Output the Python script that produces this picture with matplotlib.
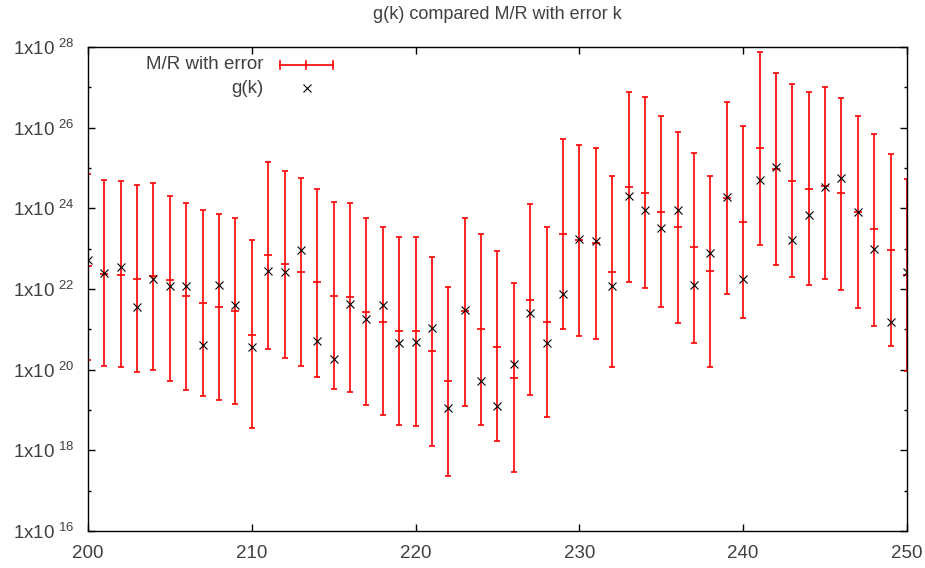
import numpy as np
import matplotlib.pyplot as plt
from matplotlib.lines import Line2D
from matplotlib.ticker import FixedLocator, FuncFormatter

plt.rcParams['font.family'] = ['Liberation Sans', 'DejaVu Sans']

# k values and log10 of the M/R centre, lower/upper error limits and g(k)
k = np.arange(200, 251)

mr_log = [22.56, 22.37, 22.35, 22.26, 22.31, 22.23, 21.82, 21.66, 21.56, 21.46,
          20.86, 22.85, 22.62, 22.41, 22.17, 21.82, 21.79, 21.42, 21.19, 20.95,
          20.95, 20.46, 19.71, 21.45, 21.01, 20.57, 19.80, 21.73, 21.17, 23.36,
          23.22, 23.15, 22.41, 24.52, 24.39, 23.92, 23.54, 23.03, 22.45, 24.25,
          23.65, 25.49, 24.97, 24.67, 24.48, 24.55, 24.37, 23.91, 23.48, 22.97,
          22.35]
low_log = [20.25, 20.09, 20.06, 19.95, 20.00, 19.71, 19.50, 19.35, 19.24, 19.15,
           18.55, 20.51, 20.30, 20.09, 19.83, 19.51, 19.45, 19.12, 18.88, 18.64,
           18.61, 18.11, 17.37, 19.09, 18.64, 18.23, 17.46, 19.38, 18.82, 21.02,
           20.84, 20.75, 20.06, 22.17, 22.03, 21.56, 21.16, 20.65, 20.06, 21.87,
           21.28, 23.09, 22.59, 22.29, 22.11, 22.24, 21.97, 21.52, 21.08, 20.58,
           19.96]
high_log = [24.85, 24.69, 24.67, 24.57, 24.63, 24.31, 24.12, 23.97, 23.87, 23.77,
            23.21, 25.16, 24.93, 24.76, 24.48, 24.16, 24.12, 23.77, 23.53, 23.30,
            23.30, 22.79, 22.05, 23.77, 23.36, 22.94, 22.14, 24.10, 23.54, 25.73,
            25.56, 25.49, 24.79, 26.89, 26.77, 26.29, 25.88, 25.38, 24.81, 26.63,
            26.03, 27.87, 27.36, 27.08, 26.89, 27.00, 26.74, 26.29, 25.85, 25.35,
            24.72]
g_log = [22.71, 22.40, 22.55, 21.55, 22.25, 22.07, 22.07, 20.60, 22.11, 21.60,
         20.57, 22.45, 22.42, 22.97, 20.71, 20.27, 21.64, 21.26, 21.60, 20.66,
         20.69, 21.04, 19.06, 21.47, 19.71, 19.09, 20.13, 21.41, 20.65, 21.88,
         23.24, 23.19, 22.07, 24.31, 23.95, 23.51, 23.95, 22.11, 22.89, 24.28,
         22.26, 24.70, 25.03, 23.21, 23.83, 24.54, 24.76, 23.91, 23.00, 21.17,
         22.42]

x_ticks = [200, 210, 220, 230, 240, 250]
y_major = [16, 18, 20, 22, 24, 26, 28]
y_minor = [17, 19, 21, 23, 25, 27]

mr = 10.0 ** np.array(mr_log)
low = 10.0 ** np.array(low_log)
high = 10.0 ** np.array(high_log)
g = 10.0 ** np.array(g_log)

text_col = '#404040'
fs = 13.5

fig = plt.figure(figsize=(9.25, 5.68), dpi=100)
ax = fig.add_axes([0.0951, 0.0651, 0.8854, 0.8522])

ax.errorbar(k, mr, yerr=[mr - low, high - mr], fmt='_', color='red',
            ms=6, mew=1.2, elinewidth=1.2, capsize=2.5, capthick=1.2, zorder=2)
ax.plot(k, g, 'x', color='black', ms=6, mew=0.8, zorder=3)

ax.set_yscale('log')
ax.set_xlim(200, 250)
ax.set_ylim(1e16, 1e28)

ax.xaxis.set_major_locator(FixedLocator(x_ticks))
ax.yaxis.set_major_locator(FixedLocator([10.0 ** e for e in y_major]))
ax.yaxis.set_minor_locator(FixedLocator([10.0 ** e for e in y_minor]))
ax.yaxis.set_minor_formatter(FuncFormatter(lambda v, p: ''))
ax.yaxis.set_major_formatter(FuncFormatter(
    lambda v, p: r'1x10$\mathregular{^{\ %d}}$' % round(np.log10(v))))

ax.tick_params(which='both', direction='in', top=True, right=True,
               labelsize=fs, labelcolor=text_col, width=1)
ax.tick_params(which='major', length=5)
ax.tick_params(axis='x', which='major', pad=10)
ax.tick_params(axis='y', which='major', pad=10)
ax.tick_params(which='minor', length=2.5)
for s in ax.spines.values():
    s.set_linewidth(1)

ax.set_title('g(k) compared M/R with error k', fontsize=13, color=text_col, pad=20)

# gnuplot style key, top left
tr = ax.transAxes
ax.text(0.214, 0.963, 'M/R with error', transform=tr, ha='right', va='center',
        fontsize=fs, color=text_col)
ax.add_line(Line2D([0.2345, 0.2992], [0.963, 0.963], transform=tr, color='red', lw=1.2))
for xx in (0.2345, 0.2662, 0.2992):
    ax.add_line(Line2D([xx, xx], [0.955, 0.971], transform=tr, color='red', lw=1.2))
ax.text(0.214, 0.915, 'g(k)', transform=tr, ha='right', va='center',
        fontsize=fs, color=text_col)
ax.plot([0.2674], [0.915], 'x', color='black', ms=6, mew=0.8, transform=tr)

fig.savefig('out.png', dpi=100)
